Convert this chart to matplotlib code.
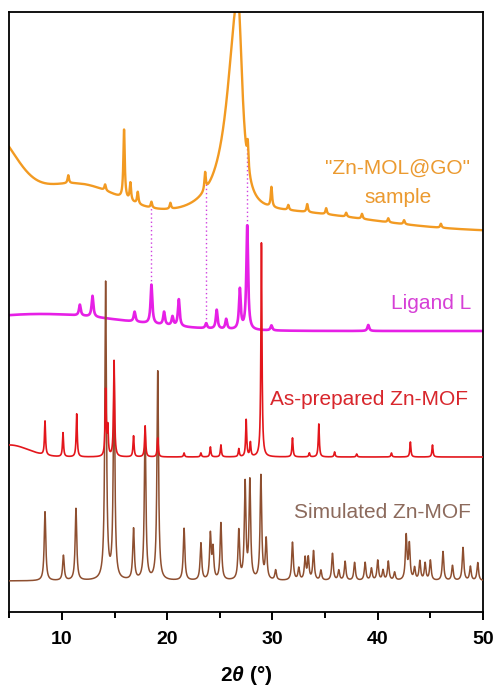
import numpy as np
import matplotlib as mpl
import matplotlib.pyplot as plt

plt.rcParams['font.family'] = ['Liberation Sans', 'DejaVu Sans']
plt.rcParams['mathtext.fontset'] = 'custom'
plt.rcParams['mathtext.rm'] = 'Liberation Sans:bold'
plt.rcParams['mathtext.it'] = 'Liberation Sans:italic:bold'
plt.rcParams['mathtext.bf'] = 'Liberation Sans:bold'

# peak tables: 2theta (deg), height (arb. units, offset scale)
sim_pos = [8.39, 10.14, 11.33, 14.15, 14.95, 16.8, 17.9, 19.1, 21.6, 23.2, 24.1, 24.35,
           25.1, 26.8, 27.4, 27.85, 28.9, 29.4, 30.3, 31.9, 32.5, 33.1, 33.4, 33.9,
           34.6, 35.7, 36.3, 36.9, 37.8, 38.8, 39.4, 40.0, 40.5, 41.0, 41.6, 42.7,
           43.0, 43.5, 44.0, 44.5, 45.0, 46.2, 47.1, 48.1, 48.8, 49.5]
sim_hgt = [69, 25, 72, 297, 212, 51, 152, 209, 52, 37, 45, 30,
           57, 49, 96, 98, 104, 40, 10, 38, 12, 22, 22, 29,
           10, 27, 10, 19, 18, 18, 12, 20, 10, 19, 8, 44,
           35, 12, 19, 17, 20, 29, 15, 33, 14, 18]
sim_base = 31

asp_pos = [8.39, 10.1, 11.4, 14.15, 14.35, 14.95, 16.8, 17.9, 19.1, 21.6, 23.2, 24.1,
           25.1, 26.8, 27.5, 27.9, 28.95, 31.9, 33.5, 34.4, 35.9, 38.0, 41.3, 43.1, 45.2]
asp_hgt = [34, 24, 43, 66, 28, 96, 21, 31, 19, 4, 4, 10,
           12, 8, 37, 14, 214, 19, 4, 33, 5, 3, 4, 15, 12]
asp_base = 155
asp_band = (5.0, 12, 1.8)          # low-angle rise: centre, height, sigma

lig_pos = [11.7, 12.9, 16.9, 18.5, 19.7, 20.5, 21.1, 23.7, 24.7, 25.6, 26.9, 27.6, 29.9, 39.1]
lig_hgt = [11, 21, 10, 39, 13, 9, 27, 5, 19, 10, 40, 104, 5, 6]
lig_base = 281
lig_band = (8.0, 17, 8.0)

go_pos = [10.6, 14.1, 15.9, 16.5, 17.2, 18.5, 20.3, 23.6, 27.65, 29.9, 31.5, 33.3,
          35.1, 37.0, 38.5, 41.0, 42.5, 46.0]
go_hgt = [8, 6, 69, 18, 12, 6, 6, 18, 25, 20, 5, 8, 6, 4, 5, 4, 4, 4]
go_base = 380
go_bands = [(3.0, 90, 2.5), (11.0, 45, 4.5), (30.0, 20, 9.0)]
go_main = (26.72, 215, 1.15, 0.5)  # graphitic peak: centre, height, left/right hwhm

marker_pos = [18.5, 23.7, 27.6]

tt = np.linspace(5, 50, 4501)


def lor(x, c, h, w):
    return h / (1 + ((x - c) / w) ** 2)


def gau(x, c, h, s):
    return h * np.exp(-(x - c) ** 2 / (2 * s ** 2))


def pattern(pos, hgt, w, base):
    y = np.full_like(tt, float(base))
    for c, h in zip(pos, hgt):
        y += lor(tt, c, h, w)
    return y


sim = pattern(sim_pos, sim_hgt, 0.09, sim_base)
asp = pattern(asp_pos, asp_hgt, 0.06, asp_base) + gau(tt, *asp_band)
lig = pattern(lig_pos, lig_hgt, 0.1, lig_base) + gau(tt, *lig_band)
go = pattern(go_pos, go_hgt, 0.08, go_base)
for b in go_bands:
    go += gau(tt, *b)
c, h, wl, wr = go_main
go += lor(tt, c, h, np.where(tt < c, wl, wr))

fig = plt.figure(figsize=(4.96, 6.87), dpi=100)
ax = fig.add_axes([0.0188, 0.1092, 0.955, 0.8733])

ax.plot(tt, go, color='#f29a22', lw=1.7, zorder=2)
ax.plot(tt, lig, color='#e620e6', lw=1.9, zorder=2)
ax.plot(tt, sim, color='#8e4f30', lw=1.1, zorder=3)
ax.plot(tt, asp, color='#e3161c', lw=1.2, zorder=4)

for xm in marker_pos:
    y_top = np.interp(xm, tt, go)
    y_bot = np.interp(xm, tt, lig)
    ax.plot([xm, xm], [y_bot, y_top], color='#d040e0', lw=1.0, ls=(0, (1, 2)), zorder=1)

ax.text(41.9, 444, '"Zn-MOL@GO"', color='#eb9a30', fontsize=15, ha='center', va='center')
ax.text(41.9, 415, 'sample', color='#eb9a30', fontsize=15, ha='center', va='center')
ax.text(45.1, 309, 'Ligand L', color='#d640d6', fontsize=15, ha='center', va='center')
ax.text(39.2, 212, 'As-prepared Zn-MOF', color='#d8262c', fontsize=15, ha='center', va='center')
ax.text(40.4, 99, 'Simulated Zn-MOF', color='#8c6a5c', fontsize=15, ha='center', va='center')

ax.set_xlim(5, 50)
ax.set_ylim(0, 600)
ax.set_yticks([])
ax.set_xticks([10, 20, 30, 40, 50])
ax.set_xticks([5, 15, 25, 35, 45], minor=True)
ax.tick_params(axis='x', which='major', direction='out', length=6, width=1.4,
               labelsize=14, pad=8)
ax.tick_params(axis='x', which='minor', direction='out', length=4, width=1.4)
for lab in ax.get_xticklabels():
    lab.set_fontweight('bold')
for sp in ax.spines.values():
    sp.set_linewidth(1.3)
ax.set_xlabel(r'2$\theta$ (°)', fontsize=15, fontweight='bold', labelpad=11)

fig.savefig('out.png', dpi=100)
